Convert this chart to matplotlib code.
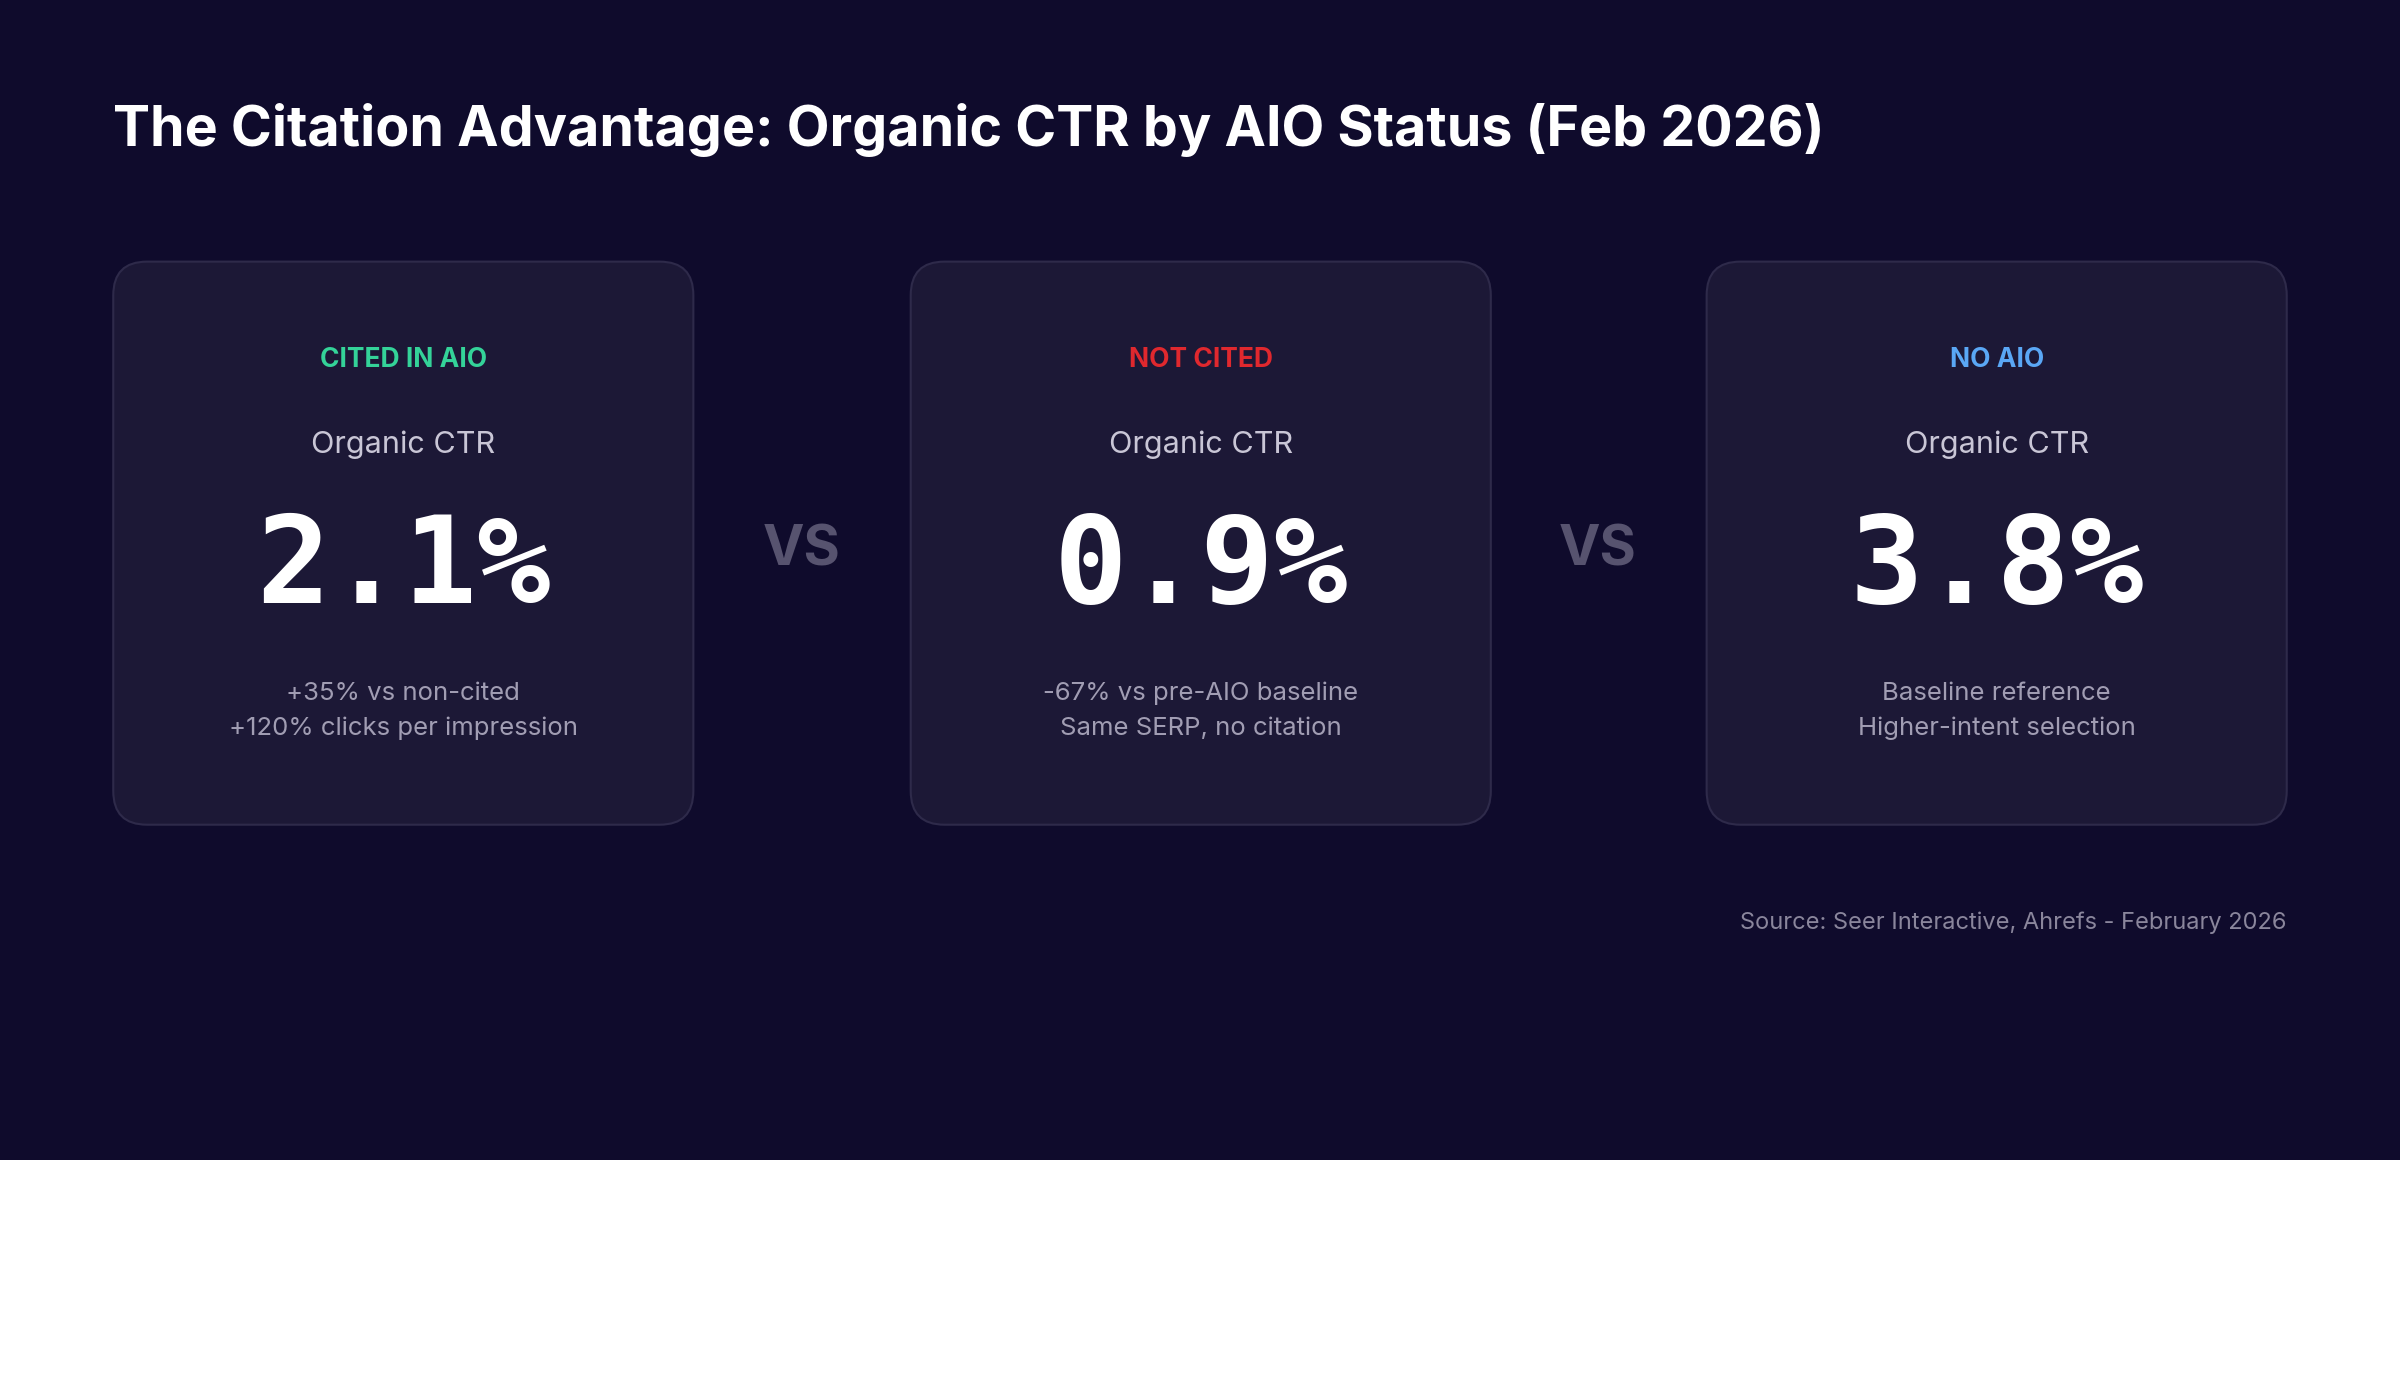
import matplotlib
matplotlib.use("Agg")
import matplotlib.pyplot as plt
from matplotlib.patches import FancyBboxPatch, Rectangle

categories = ["CITED IN AIO", "NOT CITED", "NO AIO"]
ctr_values = [2.1, 0.9, 3.8]
cat_colors = ["#34d399", "#e0282e", "#5aa7f5"]
line1 = ["+35% vs non-cited", "-67% vs pre-AIO baseline", "Baseline reference"]
line2 = ["+120% clicks per impression", "Same SERP, no citation", "Higher-intent selection"]
title = "The Citation Advantage: Organic CTR by AIO Status (Feb 2026)"
source = "Source: Seer Interactive, Ahrefs - February 2026"

W, H = 1568, 915
fig = plt.figure(figsize=(24, 14), dpi=100)
fig.patch.set_facecolor("white")
ax = fig.add_axes([0, 0, 1, 1])
ax.set_xlim(0, W); ax.set_ylim(H, 0); ax.axis("off")
ax.add_patch(Rectangle((0, 0), W, 758, facecolor="#0f0b2c", edgecolor="none"))

ax.text(74, 85, title, color="white", fontsize=40, fontweight="bold",
        family="Inter", va="center", ha="left")

card_x = [74, 595, 1115]
cw, ch, cy = 379, 368, 171
for i, x in enumerate(card_x):
    ax.add_patch(FancyBboxPatch((x, cy), cw, ch, boxstyle="round,pad=0,rounding_size=22",
                                facecolor="#1c1836", edgecolor="#2e2a4a", lw=1.5))
    cx = x + cw / 2
    ax.text(cx, 235, categories[i], color=cat_colors[i], fontsize=19, fontweight="bold",
            family="Inter", ha="center", va="center")
    ax.text(cx, 291, "Organic CTR", color="#c9c6d6", fontsize=22, family="Inter",
            ha="center", va="center")
    ax.text(cx, 372, f"{ctr_values[i]:.1f}%", color="white", fontsize=88, fontweight="bold",
            family="DejaVu Sans Mono", ha="center", va="center")
    ax.text(cx, 453, line1[i], color="#a19db3", fontsize=18.5, family="Inter",
            ha="center", va="center")
    ax.text(cx, 476, line2[i], color="#a19db3", fontsize=18.5, family="Inter",
            ha="center", va="center")

for vx in [524, 1044]:
    ax.text(vx, 360, "VS", color="#57536f", fontsize=40, fontweight="bold",
            family="Inter", ha="center", va="center")

ax.text(1494, 603, source, color="#8a869c", fontsize=17, family="Inter",
        ha="right", va="center")

fig.savefig("out.png", dpi=100, facecolor=fig.get_facecolor())
